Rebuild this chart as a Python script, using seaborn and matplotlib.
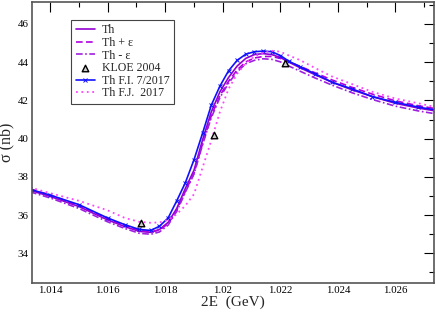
import numpy as np
import pandas as pd
import matplotlib
matplotlib.use("Agg")
import matplotlib.pyplot as plt
import seaborn as sns
from matplotlib.ticker import MultipleLocator

energy = [1.0133, 1.0140, 1.0150, 1.0160, 1.0166, 1.0171, 1.0175, 1.0178, 1.0181, 1.0184,
          1.0187, 1.0190, 1.0193, 1.0196, 1.0199, 1.0202, 1.0205, 1.0208, 1.0211, 1.0214,
          1.0217, 1.0220, 1.0223, 1.0227, 1.0232, 1.0238, 1.0245, 1.0252, 1.0260, 1.0268, 1.0274]

th = [37.30, 36.98, 36.45, 35.75, 35.40, 35.15, 35.10, 35.25, 35.62, 36.35,
      37.40, 38.35, 39.95, 41.40, 42.45, 43.20, 43.80, 44.20, 44.40, 44.45,
      44.40, 44.25, 44.00, 43.70, 43.35, 42.95, 42.55, 42.20, 41.85, 41.60, 41.45]

th_plus = [37.38, 37.05, 36.50, 35.80, 35.45, 35.20, 35.12, 35.22, 35.55, 36.25,
           37.25, 38.20, 39.75, 41.20, 42.25, 43.00, 43.60, 44.02, 44.22, 44.30,
           44.30, 44.20, 44.02, 43.78, 43.45, 43.07, 42.68, 42.33, 41.98, 41.72, 41.57]

th_minus = [37.22, 36.90, 36.35, 35.65, 35.30, 35.05, 35.00, 35.12, 35.48, 36.20,
            37.20, 38.15, 39.70, 41.10, 42.15, 42.90, 43.50, 43.92, 44.10, 44.18,
            44.15, 44.02, 43.80, 43.52, 43.18, 42.80, 42.40, 42.05, 41.70, 41.45, 41.30]

th_fi = [37.35, 37.05, 36.55, 35.85, 35.50, 35.25, 35.20, 35.42, 35.85, 36.75,
         37.70, 38.90, 40.30, 41.75, 42.75, 43.55, 44.10, 44.42, 44.55, 44.58,
         44.55, 44.35, 44.05, 43.75, 43.40, 42.95, 42.60, 42.20, 41.90, 41.65, 41.50]

th_fj = [37.45, 37.15, 36.75, 36.25, 35.85, 35.65, 35.60, 35.62, 35.75, 36.05,
         36.50, 37.10, 38.50, 39.90, 41.40, 42.60, 43.40, 43.95, 44.30, 44.50,
         44.60, 44.55, 44.35, 44.10, 43.70, 43.25, 42.85, 42.45, 42.10, 41.85, 41.65]

kloe_e = [1.01716, 1.01971, 1.02216]
kloe_sigma = [35.60, 40.20, 43.97]

xticks = [1.014, 1.016, 1.018, 1.02, 1.022, 1.024, 1.026]
xtick_labels = ["1.014", "1.016", "1.018", "1.02", "1.022", "1.024", "1.026"]
yticks = [34, 36, 38, 40, 42, 44, 46]

sns.set_theme(style="white")
plt.rcParams['font.family'] = ['Liberation Serif', 'DejaVu Serif']
plt.rcParams['mathtext.fontset'] = 'stix'

fig = plt.figure(figsize=(4.36, 3.12), dpi=100)
ax = fig.add_axes([32/436, 1 - 283/312, 402/436, 281/312])

df = pd.DataFrame({"E": energy, "th": th, "thp": th_plus, "thm": th_minus,
                   "fi": th_fi, "fj": th_fj})

violet = "#9400d3"
sns.lineplot(data=df, x="E", y="th", ax=ax, color=violet, lw=1.2, sort=False, label="Th")
sns.lineplot(data=df, x="E", y="thp", ax=ax, color="#b000e0", lw=1.2, sort=False,
             label="Th + ε", dashes=False)
ax.lines[-1].set_dashes([4, 2])
sns.lineplot(data=df, x="E", y="thm", ax=ax, color="#a020e0", lw=1.2, sort=False,
             label="Th - ε", dashes=False)
ax.lines[-1].set_dashes([4, 1.5, 1, 1.5])
kl = pd.DataFrame({"E": kloe_e, "s": kloe_sigma})
sns.scatterplot(data=kl, x="E", y="s", ax=ax, marker="^", s=22, facecolor="#cccccc",
                edgecolor="black", linewidth=1.0, label="KLOE 2004", zorder=5)
sns.lineplot(data=df, x="E", y="fi", ax=ax, color="#1010ff", lw=1.2, sort=False,
             marker="x", markersize=2.2, markeredgewidth=0.7, markeredgecolor="#1010ff",
             label="Th F.I. 7/2017")
sns.lineplot(data=df, x="E", y="fj", ax=ax, color="#ff44ff", lw=1.3, sort=False,
             label="Th F.J.  2017", dashes=False)
ax.lines[-1].set_dashes([1, 2])

ax.set_xlim(1.01337, 1.02734)
ax.set_ylim(32.45, 47.15)
ax.set_xticks(xticks)
ax.set_xticklabels(xtick_labels)
ax.set_yticks(yticks)
ax.xaxis.set_minor_locator(MultipleLocator(0.001))
ax.yaxis.set_minor_locator(MultipleLocator(1))
ax.tick_params(which="both", direction="in", top=True, right=True, colors="black",
               labelsize=7.8)
ax.tick_params(which="major", length=7, width=0.8)
ax.tick_params(which="minor", length=3.5, width=0.8)
ax.tick_params(axis="x", pad=2.5)
ax.tick_params(axis="y", pad=2.5)
for s in ax.spines.values():
    s.set_color("#555555")
    s.set_linewidth(1.2)

ax.set_xlabel("2E  (GeV)", fontsize=11, labelpad=0)
ax.set_ylabel("σ (nb)", fontsize=11.5, labelpad=2)

leg = ax.legend(loc="upper left", bbox_to_anchor=(0.098, 0.935), fontsize=8.6,
                frameon=True, fancybox=False, edgecolor="#444444", framealpha=1,
                handlelength=1.6, handletextpad=0.6, labelspacing=0.05,
                borderpad=0.35, borderaxespad=0)
leg.get_frame().set_linewidth(0.8)

fig.savefig("out.png", dpi=100)
